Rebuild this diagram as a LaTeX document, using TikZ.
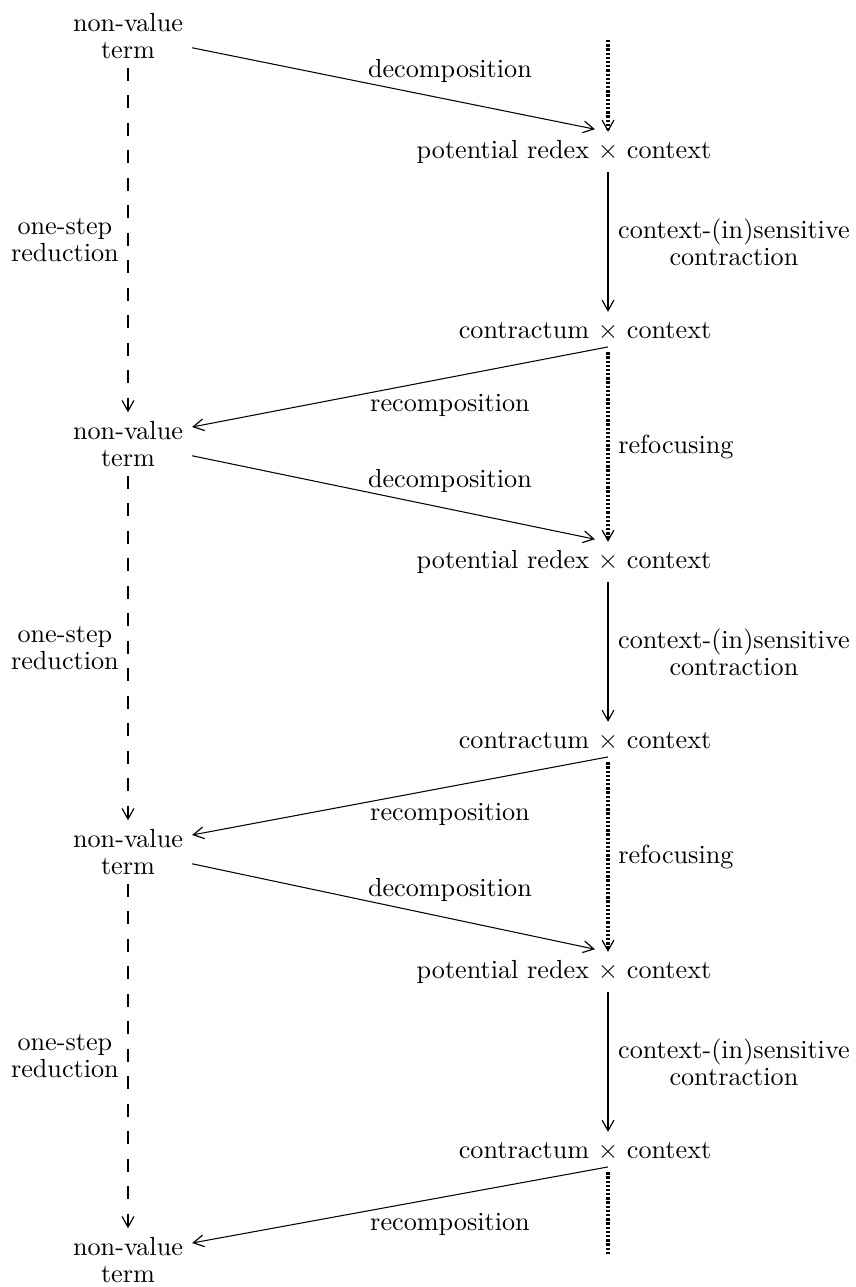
\documentclass[tikz,border=0pt]{standalone}
\usetikzlibrary{arrows.meta}
\begin{document}
\begin{tikzpicture}[x=0.382pt,y=-0.382pt,
    >={Straight Barb[length=4pt,width=4.5pt,line width=0.45pt]},
    term/.style={align=center,font=\fontsize{10}{10.2}\selectfont},
    pair/.style={inner sep=3pt,text height=7pt,text depth=2pt},
    lab/.style={align=center,font=\fontsize{10}{10.2}\selectfont},
    reduct/.style={->,dash pattern=on 5pt off 5.5pt},
    contract/.style={->,line width=1.1pt},
    refocus/.style={line width=1.2pt,dash pattern=on 0.9pt off 0.7pt}]
  \useasboundingbox (0,0) rectangle (856,1287);
  \node[term] (t0) at (128,36) {non-value\\term};
  \coordinate (top) at (608,40);
  \coordinate (bot) at (608,1255);
  \foreach \k [count=\n] in {0,1,2}
  {\node[pair] (p\n) at (608,152+410*\k) {\llap{potential redex }$\times$\rlap{ context}};
   \node[pair] (c\n) at (608,332+410*\k) {\llap{contractum }$\times$\rlap{ context}};
   \node[term] (t\n) at (128,444+408*\k) {non-value\\term};}
  % one cycle of the reduction
  \foreach \k [count=\n] in {0,1,2}
  {\draw[reduct] (t\k.south) -- node[midway,left,lab]{one-step\\reduction} (t\n.north);
   \draw[->] ([yshift=-4.5pt]t\k.east) -- node[pos=0.64,above=3pt,inner sep=3.33pt]{decomposition} ([xshift=-5pt,yshift=1pt]p\n.north);
   \draw[contract] (p\n.south) -- node[midway,right,lab]{context-(in)sensitive\\contraction} (c\n.north);
   \draw[->] ([yshift=2pt]c\n.south) -- node[pos=0.38,below=3pt]{recomposition} ([yshift=6.5pt]t\n.east);}
  % refocusing
  \draw[refocus,->] (top) -- (p1.north);
  \foreach \a/\b in {1/2,2/3}
  {\draw[refocus,->] (c\a.south) -- node[midway,right]{refocusing} (p\b.north);}
  \draw[refocus] (c3.south) -- (bot);
\end{tikzpicture}
\end{document}
